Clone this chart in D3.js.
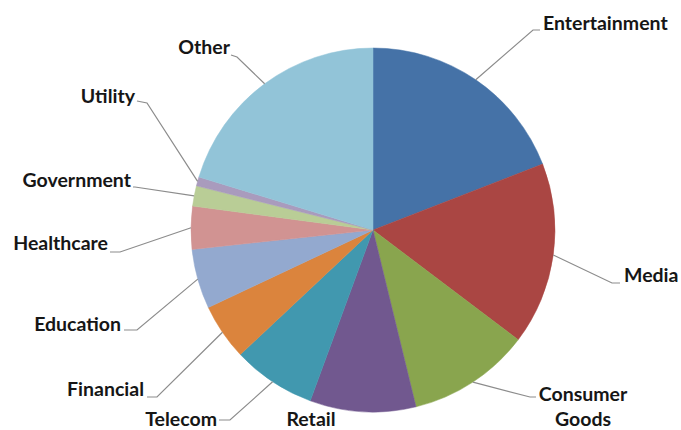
<!DOCTYPE html>
<html>
<head>
<meta charset="utf-8">
<script src="https://cdn.jsdelivr.net/npm/d3@7"></script>
<style>
  html, body { margin: 0; padding: 0; background: #fff; }
  svg { display: block; }
</style>
</head>
<body>
<div id="chart"></div>
<script>
// Industry share, clockwise from 12 o'clock (percent)
const categories = ["Entertainment", "Media", "Consumer Goods", "Retail", "Telecom", "Financial",
  "Education", "Healthcare", "Government", "Utility", "Other"];
const shares = [19.1, 16.2, 10.9, 9.4, 7.4, 5.0, 5.3, 3.8, 1.8, 0.8, 20.3];
const colors = ["#4572A7", "#AA4643", "#89A54E", "#71588F", "#4198AF", "#DB843D",
  "#93A9CF", "#D19392", "#B9CD96", "#A99BBD", "#92C4D8"];

// Label placement (text anchor point + leader elbow), keyed by category
const labelLayout = {
  "Entertainment": { x: 543, y: 30, anchor: "start", elbow: [533, 30], end: [540, 30] },
  "Media": { x: 624, y: 282, anchor: "start", elbow: [612, 283], end: [620, 283] },
  "Consumer Goods": { x: 583, y: 401, anchor: "middle", elbow: [530, 397], end: [536, 397], lines: ["Consumer", "Goods"] },
  "Retail": { x: 311, y: 426, anchor: "middle" },
  "Telecom": { x: 217, y: 426, anchor: "end", elbow: [230, 420], end: [219, 420] },
  "Financial": { x: 144, y: 396, anchor: "end", elbow: [157, 397], end: [147, 397] },
  "Education": { x: 121, y: 331, anchor: "end", elbow: [137, 330], end: [124, 330] },
  "Healthcare": { x: 108, y: 250, anchor: "end", elbow: [120, 252], end: [110, 252] },
  "Government": { x: 131, y: 187, anchor: "end", elbow: [135, 187], end: [133, 187] },
  "Utility": { x: 135, y: 103, anchor: "end", elbow: [147, 103], end: [137, 101] },
  "Other": { x: 230, y: 54, anchor: "end", elbow: [237, 57], end: [231, 55] }
};

const width = 681, height = 430;
const cx = 373, cy = 230, radius = 182;

const svg = d3.select("#chart").append("svg")
  .attr("width", width)
  .attr("height", height);

const data = categories.map((c, i) => ({ name: c, value: shares[i], color: colors[i] }));

const pie = d3.pie().sort(null).value(d => d.value);
const arcs = pie(data);

const arc = d3.arc().innerRadius(0).outerRadius(radius);
const edgeArc = d3.arc().innerRadius(radius).outerRadius(radius);

const g = svg.append("g").attr("transform", `translate(${cx},${cy})`);

g.selectAll("path.slice")
  .data(arcs)
  .enter()
  .append("path")
  .attr("class", "slice")
  .attr("d", arc)
  .attr("fill", d => d.data.color)
  .attr("stroke", d => d.data.color)
  .attr("stroke-width", 0.5);

// Leader lines
const line = d3.line();
svg.selectAll("path.leader")
  .data(arcs.filter(d => labelLayout[d.data.name].elbow))
  .enter()
  .append("path")
  .attr("class", "leader")
  .attr("d", d => {
    const p = edgeArc.centroid(d);
    const L = labelLayout[d.data.name];
    return line([[p[0] + cx, p[1] + cy], L.elbow, L.end]);
  })
  .attr("fill", "none")
  .attr("stroke", "#8c8c8c")
  .attr("stroke-width", 1.2);

// Labels
const labels = svg.selectAll("text.label")
  .data(arcs)
  .enter()
  .append("text")
  .attr("class", "label")
  .attr("x", d => labelLayout[d.data.name].x)
  .attr("y", d => labelLayout[d.data.name].y)
  .attr("text-anchor", d => labelLayout[d.data.name].anchor)
  .attr("font-family", "Lato, 'Open Sans', sans-serif")
  .attr("font-weight", "bold")
  .attr("font-size", "19.5px")
  .attr("fill", "#161616");

labels.each(function(d) {
  const L = labelLayout[d.data.name];
  const t = d3.select(this);
  if (L.lines) {
    L.lines.forEach((s, i) => {
      t.append("tspan").attr("x", L.x).attr("dy", i === 0 ? 0 : 25).text(s);
    });
  } else {
    t.text(d.data.name);
  }
});
</script>
</body>
</html>
